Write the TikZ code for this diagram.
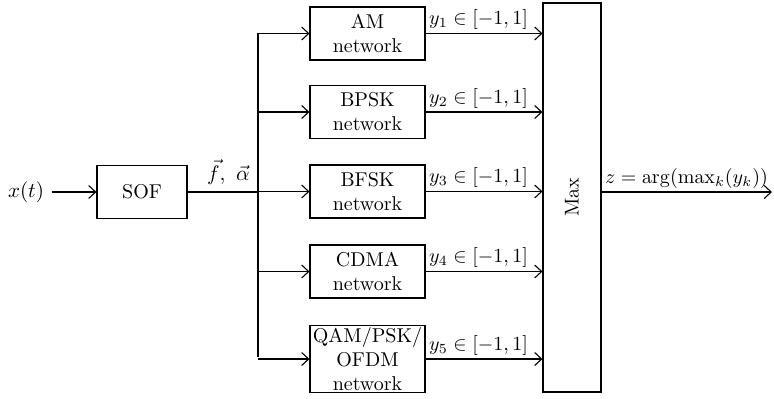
\documentclass[tikz,border=0pt]{standalone}
\usepackage{amsfonts,amssymb,amsmath}
\usepackage{graphicx}
\usepackage{tikz}
\usetikzlibrary{arrows.meta,arrows,positioning}

\begin{document}
\begin{tikzpicture}[x=0.5pt,y=-0.5pt,line width=0.55pt,>={Straight Barb[length=3.5pt,width=6.5pt]},
  blk/.style={draw,minimum width=57.5pt,minimum height=26.5pt,align=center,inner sep=1pt},
  lbl/.style={anchor=south west,inner sep=1.5pt}]
\useasboundingbox (0,0) rectangle (774,398);
% input and SOF block
\node[scale=1.05] (xt) at (26,192) {$x(t)$};
\node[draw,minimum width=45pt,minimum height=26.5pt] (sof) at (142,192) {SOF};
\coordinate (bus) at (258,192);
\coordinate (bustop) at (258,33);
\coordinate (busbot) at (258,357);
% classifier networks
\node[blk] (am) at (367.5,33.5) {AM\\network};
\node[blk] (bpsk) at (367.5,112) {BPSK\\network};
\node[blk] (bfsk) at (367.5,191.5) {BFSK\\network};
\node[blk] (cdma) at (367.5,271.5) {CDMA\\network};
\node[blk] (qam) at (367.5,359) {QAM/PSK/\\OFDM\\network};
% decision block
\node[draw,minimum width=29pt,minimum height=194.5pt,inner sep=0pt] (max) at (572,197.5) {\rotatebox{90}{Max}};
\coordinate (out) at (772,192);

\draw[->](xt)--(sof);
\draw(sof)--(bus)node[pos=0.58,above,scale=1.05]{$\vec{f},\ \vec{\alpha}$};
\draw(bustop)--(busbot);
\foreach \n/\i in {am/1,bpsk/2,bfsk/3,cdma/4,qam/5}{
  \draw[->](bus|-\n.west)--(\n.west);
  \draw[->](\n.east)--(\n.east-|max.west)
    node[pos=0,lbl]{$y_{\i}\in[-1,1]$};
}
\draw[->](max.east|-bus)--(out)
  node[pos=0,lbl]{$z=\arg(\max_k(y_k))$};
\end{tikzpicture}
\end{document}
